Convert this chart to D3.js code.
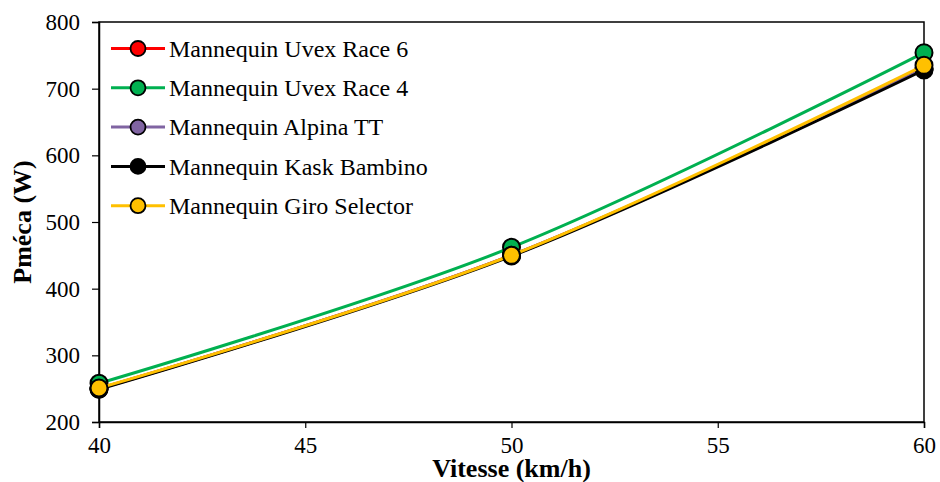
<!DOCTYPE html>
<html><head><meta charset="utf-8">
<script src="https://cdn.jsdelivr.net/npm/d3@7"></script>
<style>body{margin:0;background:#fff}svg{display:block}</style>
</head><body>
<script>
const speeds = [40, 50, 60];
const seriesNames = ["Mannequin Uvex Race 6","Mannequin Uvex Race 4","Mannequin Alpina TT","Mannequin Kask Bambino","Mannequin Giro Selector"];
const seriesColors = ["#ff0000","#00b050","#8064a2","#000000","#ffc000"];
const uvexRace6 = [250, 450, 730];
const uvexRace4 = [258, 462, 754];
const alpinaTT = [250, 450, 730];
const kaskBambino = [249, 449, 728];
const giroSelector = [251, 450, 735];
const xTicks = [40, 45, 50, 55, 60];
const yTicks = [200, 300, 400, 500, 600, 700, 800];

const allValues = [uvexRace6, uvexRace4, alpinaTT, kaskBambino, giroSelector];
const W = 940, H = 482;
const m = {l:99, r:16, t:22, b:60};
const FONT = "Liberation Serif";
const svg = d3.select("body").append("svg").attr("width",W).attr("height",H)
  .attr("font-family",FONT);
const x = d3.scaleLinear().domain([40,60]).range([m.l, W-m.r]);
const y = d3.scaleLinear().domain([200,800]).range([H-m.b, m.t]);

// frame
svg.append("rect").attr("x",x(40)).attr("y",y(800)).attr("width",x(60)-x(40)).attr("height",y(200)-y(800))
  .attr("fill","none").attr("stroke","#000").attr("stroke-width",1.5);

const gx = svg.append("g").attr("transform",`translate(0,${y(200)})`)
  .call(d3.axisBottom(x).tickValues(xTicks).tickSize(6).tickPadding(9));
const gy = svg.append("g").attr("transform",`translate(${x(40)},0)`)
  .call(d3.axisLeft(y).tickValues(yTicks).tickSize(7).tickPadding(12));
[gx,gy].forEach(g=>{
  g.attr("font-family",FONT).attr("font-size",23);
  g.select(".domain").attr("stroke","#000").attr("stroke-width",1.5);
  g.selectAll(".tick line").attr("stroke","#000").attr("stroke-width",1.2);
  g.selectAll("text").attr("font-family",FONT).attr("font-size",23).attr("fill","#000");
});

const line = d3.line().x((d,i)=>x(speeds[i])).y(d=>y(d)).curve(d3.curveCatmullRom.alpha(0));
allValues.forEach((vals,k)=>{
  const g = svg.append("g");
  g.append("path").attr("d",line(vals)).attr("fill","none").attr("stroke",seriesColors[k]).attr("stroke-width",3);
  g.selectAll("circle").data(vals).join("circle")
    .attr("cx",(d,i)=>x(speeds[i])).attr("cy",d=>y(d)).attr("r",8.5)
    .attr("fill",seriesColors[k]).attr("stroke","#000").attr("stroke-width",2);
});

// legend
const leg = svg.append("g");
seriesNames.forEach((n,k)=>{
  const yy = 48.5 + k*39.3;
  leg.append("line").attr("x1",111).attr("x2",165).attr("y1",yy).attr("y2",yy)
    .attr("stroke",seriesColors[k]).attr("stroke-width",3);
  leg.append("circle").attr("cx",138).attr("cy",yy).attr("r",7.5)
    .attr("fill",seriesColors[k]).attr("stroke","#000").attr("stroke-width",1.8);
  leg.append("text").attr("x",169).attr("y",yy).attr("dy","0.34em")
    .attr("font-family",FONT).attr("font-size",24).attr("fill","#000").text(n);
});

svg.append("text").attr("x",(x(40)+x(60))/2).attr("y",477).attr("text-anchor","middle")
  .attr("font-family",FONT).attr("font-size",26).attr("font-weight","bold").text("Vitesse (km/h)");
svg.append("text").attr("transform",`translate(31,${(y(200)+y(800))/2}) rotate(-90)`).attr("text-anchor","middle")
  .attr("font-family",FONT).attr("font-size",26).attr("font-weight","bold").text("Pméca (W)");
</script>
</body></html>
